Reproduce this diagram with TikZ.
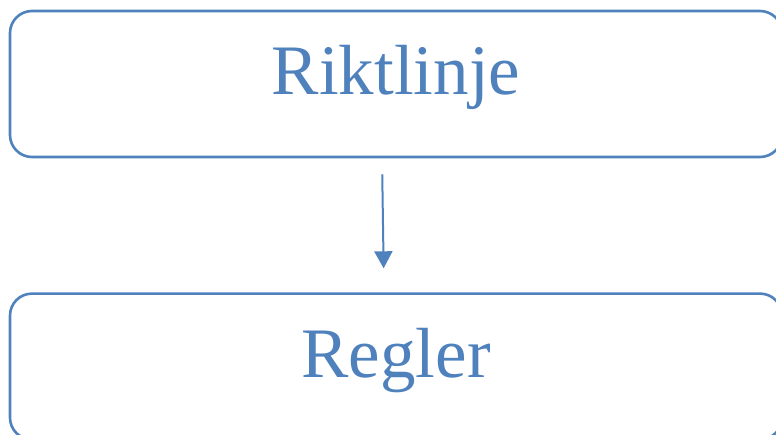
\documentclass[tikz,border=0pt]{standalone}
\usepackage{fontspec}
\setmainfont{Liberation Serif}
\usepackage{tikz}
\usetikzlibrary{positioning,arrows.meta}
\definecolor{boxblue}{HTML}{4F81BD}
\tikzset{roundbox/.style={rectangle, rounded corners=22pt, draw=boxblue, line width=2.6pt, text=boxblue, minimum width=772pt, minimum height=146pt, text height=42pt, text depth=21pt, font=\fontsize{71}{80}\selectfont},}

\begin{document}
\begin{tikzpicture}[x=1pt,y=1pt,node distance=134pt]
\useasboundingbox (0,0) rectangle (776,-434);
\node [roundbox] (rikt) at (396,-84) {Riktlinje};
\node [roundbox] (regl) [below=of rikt] {Regler};
\draw[boxblue, line width=2pt, -{Triangle[length=17pt,width=18pt]}, shorten <=16pt, shorten >=24pt] ([xshift=-14pt]rikt.south) -- ([xshift=-12pt]regl.north);
\end{tikzpicture}
\end{document}
